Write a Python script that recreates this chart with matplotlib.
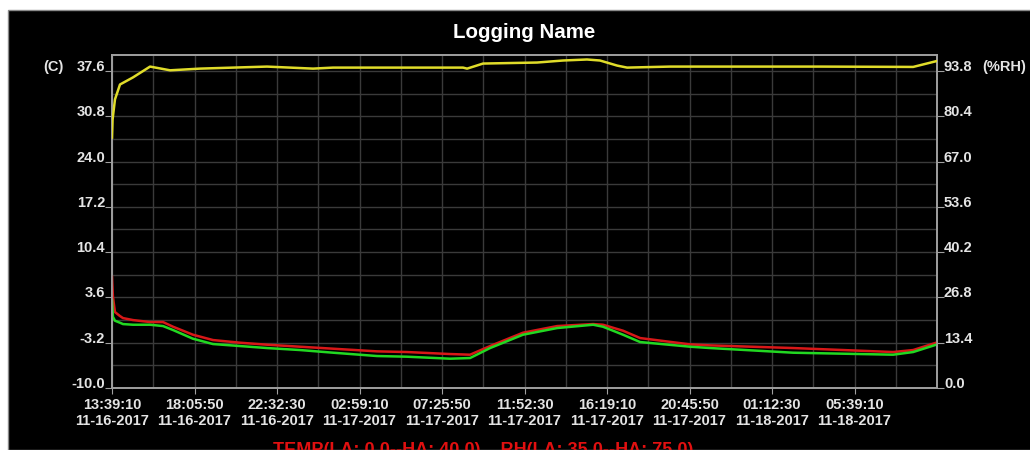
import numpy as np
import matplotlib
matplotlib.use("Agg")
import matplotlib.pyplot as plt
from matplotlib.patches import Rectangle
from matplotlib.ticker import FixedLocator
from matplotlib.transforms import blended_transform_factory

# hours since the first record (11-16-2017 13:39:10)
temp_hours = [0.00, 0.05, 0.16, 0.43, 0.59, 1.13, 2.05, 2.75, 3.29, 4.36, 5.44, 6.90,
              8.35, 10.13, 11.91, 14.28, 15.89, 18.21, 19.29, 20.37, 22.14, 23.98,
              25.92, 26.45, 27.53, 28.45, 31.14, 32.22, 36.69, 42.08, 43.16, 44.40]
temp_red = [6.7, 3.7, 1.4, 0.8, 0.5, 0.2, -0.1, -0.1, -0.8, -2.0, -2.8, -3.2,
            -3.5, -3.8, -4.1, -4.5, -4.6, -4.9, -5.0, -3.7, -1.7, -0.7,
            -0.4, -0.5, -1.4, -2.5, -3.45, -3.6, -4.0, -4.6, -4.3, -3.2]
temp_green = [3.2, 0.7, 0.1, -0.2, -0.4, -0.5, -0.5, -0.7, -1.3, -2.6, -3.4, -3.7,
              -4.0, -4.3, -4.7, -5.2, -5.3, -5.6, -5.5, -4.0, -2.0, -1.0,
              -0.5, -0.8, -2.0, -3.1, -3.8, -4.0, -4.7, -5.0, -4.6, -3.5]

rh_hours = [0.00, 0.03, 0.16, 0.43, 1.13, 2.05, 3.13, 4.74, 6.52, 8.35, 10.83, 11.91,
            13.74, 17.13, 18.91, 19.13, 19.99, 22.90, 24.30, 25.59, 26.29, 27.21,
            27.75, 30.06, 34.91, 38.15, 43.16, 44.40]
rh_yellow = [74.1, 79.4, 85.4, 89.8, 91.9, 95.1, 94.0, 94.5, 94.8, 95.1, 94.5, 94.8,
             94.8, 94.8, 94.8, 94.5, 96.0, 96.3, 96.9, 97.2, 96.9, 95.4,
             94.8, 95.1, 95.1, 95.1, 95.0, 96.7]

temp_ticks = [-10.0, -3.2, 3.6, 10.4, 17.2, 24.0, 30.8, 37.6]
rh_ticks = [0.0, 13.4, 26.8, 40.2, 53.6, 67.0, 80.4, 93.8]
time_labels = ["13:39:10\n11-16-2017", "18:05:50\n11-16-2017", "22:32:30\n11-16-2017",
               "02:59:10\n11-17-2017", "07:25:50\n11-17-2017", "11:52:30\n11-17-2017",
               "16:19:10\n11-17-2017", "20:45:50\n11-17-2017", "01:12:30\n11-18-2017",
               "05:39:10\n11-18-2017"]

step_h = 16000 / 3600.0   # 4:26:40 between labelled ticks
temp_lim = (-10.0, 40.0)
rh_lim = (0.0, rh_ticks[-1] * (temp_lim[1] - temp_lim[0]) / (temp_ticks[-1] - temp_lim[0]))

plt.rcParams['font.family'] = ['Liberation Sans', 'DejaVu Sans']
plt.rcParams['font.weight'] = 'bold'

W, H = 1030, 450
fig = plt.figure(figsize=(W / 100, H / 100), dpi=100, facecolor='white')
# black panel with a thin grey left edge
fig.patches.append(Rectangle((8 / W, 0), 1, 1 - 10 / H, transform=fig.transFigure,
                             facecolor='black', edgecolor='#8a8a8a', linewidth=1.0, zorder=-10))

ax = fig.add_axes([112 / W, 1 - 388 / H, (937 - 112) / W, (388 - 55) / H])
ax.set_facecolor('black')
ax2 = ax.twinx()

grid_c = '#3a3a3a'
text_c = '#e4e4e4'
spine_c = '#a0a0a0'

xmax = step_h * 10
ax.set_xlim(0, xmax)
ax.set_ylim(*temp_lim)
ax2.set_ylim(*rh_lim)

# grid every half step on both axes
for x in np.arange(0, xmax + 0.01, step_h / 2):
    ax.axvline(x, color=grid_c, lw=1.0, zorder=0)
for y in np.arange(temp_lim[0], temp_lim[1], 3.4):
    ax.axhline(y, color=grid_c, lw=1.0, zorder=0)

ax.plot(temp_hours, temp_red, color='#d81818', lw=1.8, zorder=3)
ax.plot(temp_hours, temp_green, color='#22d822', lw=1.8, zorder=4)
ax2.plot(rh_hours, rh_yellow, color='#e0dc2a', lw=1.8, zorder=3)

ax.set_xticks([i * step_h for i in range(len(time_labels))])
ax.set_xticklabels(time_labels)
ax.yaxis.set_major_locator(FixedLocator(temp_ticks))
ax.set_yticklabels([f"{t:.1f}" for t in temp_ticks])
ax2.yaxis.set_major_locator(FixedLocator(rh_ticks))
ax2.set_yticklabels([f"{t:.1f}" for t in rh_ticks])

ax.tick_params(axis='x', colors=spine_c, labelcolor=text_c, labelsize=10.5, length=4, pad=3)
ax.tick_params(axis='y', colors=spine_c, labelcolor=text_c, labelsize=10.5, length=5, pad=0)
ax2.tick_params(axis='y', colors=spine_c, labelcolor=text_c, labelsize=10.5, length=5, pad=0)
for lab in ax.get_yticklabels() + ax2.get_yticklabels():
    lab.set_verticalalignment('baseline')

for a in (ax, ax2):
    for s in a.spines.values():
        s.set_color(spine_c)
        s.set_linewidth(1.2)

# unit captions next to the top tick labels
tr_l = blended_transform_factory(fig.transFigure, ax.transData)
fig.text(43 / W, temp_ticks[-1], "(C)", transform=tr_l, color=text_c, fontsize=10.5,
         ha='left', va='baseline')
tr_r = blended_transform_factory(fig.transFigure, ax2.transData)
fig.text(982 / W, rh_ticks[-1], "(%RH)", transform=tr_r, color=text_c, fontsize=10.5,
         ha='left', va='baseline')

fig.text((112 + 937) / 2 / W, 1 - 33 / H, "Logging Name", color='white', fontsize=14.8,
         ha='center', va='center')
fig.text(273 / W, 1 - 442 / H, "TEMP(LA: 0.0--HA: 40.0)    RH(LA: 35.0--HA: 75.0)",
         color='#e01010', fontsize=13, ha='left', va='top')

fig.savefig("out.png", dpi=100, facecolor=fig.get_facecolor())
